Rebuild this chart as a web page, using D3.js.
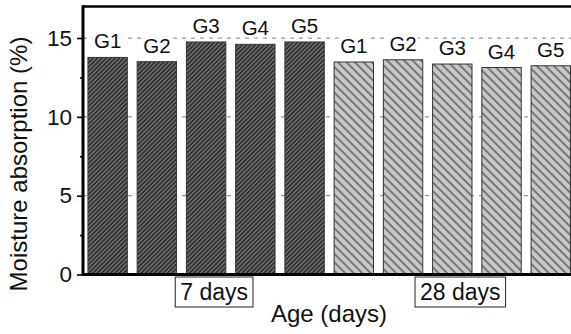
<!DOCTYPE html>
<html><head><meta charset="utf-8">
<script src="https://cdn.jsdelivr.net/npm/d3@7"></script>
<style>html,body{margin:0;padding:0;background:#fff;overflow:hidden}</style>
</head><body>
<svg id="c" width="571" height="334"></svg>
<script>
const groups = ["7 days", "28 days"];
const samples = ["G1", "G2", "G3", "G4", "G5"];
const values7 = [13.77, 13.5, 14.75, 14.6, 14.75];
const values28 = [13.48, 13.62, 13.35, 13.13, 13.24];
const yTicks = [0, 5, 10, 15];
const yMinorTicks = [2.5, 7.5, 12.5];
const yLabel = "Moisture absorption (%)";
const xLabel = "Age (days)";

const rows = [];
groups.forEach((g, gi) => {
  const vals = gi === 0 ? values7 : values28;
  samples.forEach((s, i) => rows.push({ key: g + "-" + s, group: g, gi, sample: s, value: vals[i] }));
});

const svg = d3.select("#c");
const font = "'Liberation Sans', Arial, Helvetica, sans-serif";
const L = 83, T = 6.5, B = 274.5, R = 575.4;

const x = d3.scaleBand().domain(rows.map(d => d.key)).range([L, R]).paddingInner(0.2).paddingOuter(0.1);
const y = d3.scaleLinear().domain([0, 17]).range([B, T]);

const defs = svg.append("defs");
function hatch(id, bg, spacing, angle, sw) {
  const p = defs.append("pattern").attr("id", id).attr("patternUnits", "userSpaceOnUse")
    .attr("width", spacing).attr("height", spacing).attr("patternTransform", `rotate(${angle})`);
  p.append("rect").attr("width", spacing).attr("height", spacing).attr("fill", bg);
  p.append("line").attr("x1", spacing / 2).attr("x2", spacing / 2).attr("y1", 0).attr("y2", spacing)
    .attr("stroke", "#111").attr("stroke-width", sw);
}
hatch("h7", "#6e6e6e", 3.1, 45, 1.1);
hatch("h28", "#c8c8c8", 6.0, -45, 0.9);

// gridlines
svg.append("g").selectAll("line").data(yTicks.filter(t => t > 0)).join("line")
  .attr("x1", L).attr("x2", 571).attr("y1", d => y(d)).attr("y2", d => y(d))
  .attr("stroke", "#9a9a9a").attr("stroke-width", 1.2).attr("stroke-dasharray", "4,5");

// bars
svg.append("g").selectAll("rect").data(rows).join("rect")
  .attr("x", d => x(d.key)).attr("width", x.bandwidth())
  .attr("y", d => y(d.value)).attr("height", d => y(0) - y(d.value))
  .attr("fill", d => d.gi === 0 ? "url(#h7)" : "url(#h28)")
  .attr("stroke", "#333").attr("stroke-width", 1);

// bar labels with white background
const lab = svg.append("g").selectAll("g").data(rows).join("g")
  .attr("transform", d => `translate(${x(d.key) + x.bandwidth() / 2},${y(d.value) - 9})`);
lab.append("rect").attr("x", -15).attr("y", -16).attr("width", 30).attr("height", 17).attr("fill", "#fff");
lab.append("text").text(d => d.sample).attr("text-anchor", "middle")
  .attr("font-family", font).attr("font-size", 20.5).attr("fill", "#111");

// frame: top line, bottom axis
svg.append("line").attr("x1", L).attr("x2", 571).attr("y1", T).attr("y2", T).attr("stroke", "#000").attr("stroke-width", 2.7);
svg.append("line").attr("x1", L).attr("x2", 571).attr("y1", B).attr("y2", B).attr("stroke", "#000").attr("stroke-width", 3);

const yAxis = d3.axisLeft(y).tickValues(yTicks).tickSize(6).tickPadding(5).tickFormat(d3.format("d"));
const ga = svg.append("g").attr("transform", `translate(${L},0)`).call(yAxis);
ga.select(".domain").attr("stroke-width", 3).attr("d", `M0,${T - 1.3}V${B + 1.5}`);
ga.selectAll(".tick line").attr("stroke-width", 1.6);
ga.selectAll(".tick text").attr("font-family", font).attr("font-size", 22.5).attr("fill", "#111");
const gm = svg.append("g").attr("transform", `translate(${L},0)`)
  .call(d3.axisLeft(y).tickValues(yMinorTicks).tickSize(3).tickFormat(""));
gm.select(".domain").remove();
gm.selectAll(".tick line").attr("stroke-width", 1.6);

// group label boxes
groups.forEach((g, gi) => {
  const keys = rows.filter(r => r.gi === gi).map(r => r.key);
  const cx = (x(keys[0]) + x(keys[keys.length - 1]) + x.bandwidth()) / 2 + 8;
  const gg = svg.append("g");
  const t = gg.append("text").text(g).attr("x", cx).attr("y", 300).attr("text-anchor", "middle")
    .attr("font-family", font).attr("font-size", 23).attr("fill", "#111");
  const w = t.node().getComputedTextLength();
  gg.insert("rect", "text").attr("x", cx - w / 2 - 5).attr("y", 277).attr("width", w + 10).attr("height", 30)
    .attr("fill", "#fff").attr("stroke", "#222").attr("stroke-width", 1);
});

// axis titles
svg.append("text").text(xLabel).attr("x", 329).attr("y", 322).attr("text-anchor", "middle")
  .attr("font-family", font).attr("font-size", 24).attr("fill", "#111");
svg.append("text").text(yLabel).attr("transform", "translate(27,164) rotate(-90)").attr("text-anchor", "middle")
  .attr("font-family", font).attr("font-size", 24).attr("fill", "#111");
</script>
</body></html>
